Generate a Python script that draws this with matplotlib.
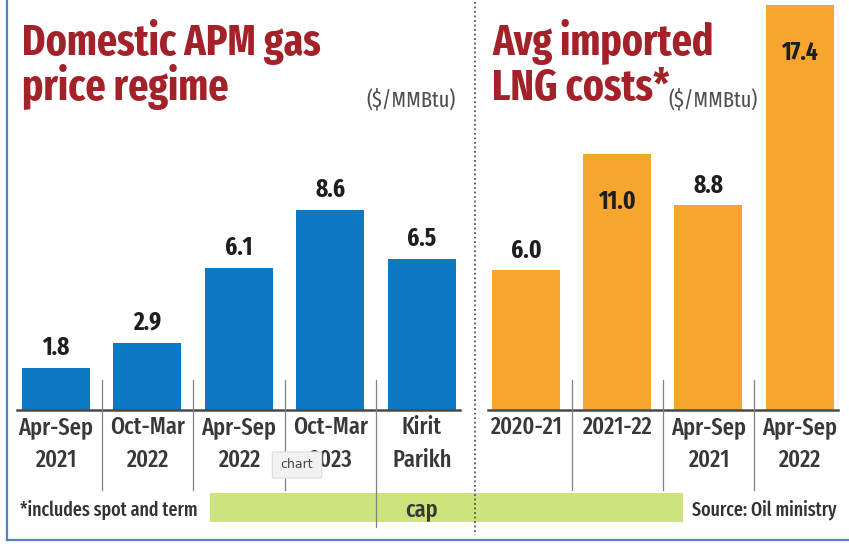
import matplotlib
matplotlib.use('Agg')
import matplotlib.pyplot as plt
from matplotlib.patches import Rectangle, FancyBboxPatch
from matplotlib.lines import Line2D
from matplotlib.transforms import blended_transform_factory

# ---------------- data ----------------
apm_labels = ["Apr-Sep\n2021", "Oct-Mar\n2022", "Apr-Sep\n2022", "Oct-Mar\n2023", "Kirit\nParikh\ncap"]
apm_values = [1.8, 2.9, 6.1, 8.6, 6.5]
lng_labels = ["2020-21", "2021-22", "Apr-Sep\n2021", "Apr-Sep\n2022"]
lng_values = [6.0, 11.0, 8.8, 17.4]

title_left = ["Domestic APM gas", "price regime"]
title_right = ["Avg imported", "LNG costs*"]
unit = "($/MMBtu)"
footnote = "*includes spot and term"
source = "Source: Oil ministry"

FONT = ['Fira Sans Extra Condensed', 'Roboto Condensed', 'DejaVu Sans']
BLUE = '#0b79c4'
ORANGE = '#f6a52f'
RED = '#a3222a'
TXT = '#383838'

W, H = 849, 546
fig = plt.figure(figsize=(W / 100, H / 100), dpi=100)
fig.patch.set_facecolor('white')


def fx(px):
    return px / W


def fy(py):
    return 1 - py / H


YMAX = 17.63
BASE = 410
LINE_Y = [434, 467, 516]  # baselines of the category label lines (px)

axL = fig.add_axes([fx(10), fy(BASE), 457.5 / W, BASE / H])
axR = fig.add_axes([fx(480.4), fy(BASE), 364.8 / W, BASE / H])

for ax, labels, values, color, n in ((axL, apm_labels, apm_values, BLUE, 5),
                                     (axR, lng_labels, lng_values, ORANGE, 4)):
    ax.set_zorder(3)
    ax.set_xlim(-0.5, n - 0.5)
    ax.set_ylim(0, YMAX)
    ax.axis('off')
    xs = list(range(len(values)))
    ax.bar(xs, values, width=0.745, color=color, zorder=2)
    ax.plot([-0.42, n - 0.58], [0, 0], color='#4a4a4a', lw=1.8, zorder=3, clip_on=False)
    for x, v in zip(xs, values):
        if v >= 10:
            ax.text(x, v - 2.35, f"{v:.1f}", ha='center', va='baseline', fontsize=18,
                    fontweight='bold', color='#1e1e1e', family=FONT, zorder=4)
        else:
            ax.text(x, v + 0.55, f"{v:.1f}", ha='center', va='baseline', fontsize=18,
                    fontweight='bold', color='#1e1e1e', family=FONT, zorder=4)
    tr = blended_transform_factory(ax.transData, fig.transFigure)
    for k in range(n - 1):
        bottom = 527 if (n == 5 and k == 3) else 490
        ax.plot([k + 0.5, k + 0.5], [fy(380), fy(bottom)], transform=tr, color='#808080',
                lw=0.9, clip_on=False, zorder=5)
    for x, lab in zip(xs, labels):
        for i, line in enumerate(lab.split("\n")):
            ax.text(x, fy(LINE_Y[i]), line, transform=tr, ha='center', va='baseline',
                    fontsize=17.5, fontweight='medium', color=TXT, family=FONT, zorder=6)

# green band behind footer
fig.patches.append(Rectangle((fx(210), fy(522)), (683 - 210) / W, 29 / H,
                             transform=fig.transFigure, facecolor='#cde37c', edgecolor='none', zorder=1))

# dotted divider
fig.add_artist(Line2D([fx(475), fx(475)], [fy(2), fy(535)], color='#555555', lw=1.3,
                      linestyle=(0, (1, 1.5)), zorder=7))

# border
fig.add_artist(Line2D([fx(7), fx(7)], [fy(0), fy(540)], color='#4f82c9', lw=1.6, zorder=8))
fig.add_artist(Line2D([fx(7), fx(849)], [fy(540), fy(540)], color='#4f82c9', lw=1.6, zorder=8))

# titles
for i, line in enumerate(title_left):
    fig.text(fx(22), fy(55 + 45 * i), line, ha='left', va='baseline', fontsize=31,
             fontweight='bold', color=RED, family=FONT)
for i, line in enumerate(title_right):
    fig.text(fx(492), fy(55 + 45 * i), line, ha='left', va='baseline', fontsize=31,
             fontweight='bold', color=RED, family=FONT)
fig.text(fx(456), fy(106), unit, ha='right', va='baseline', fontsize=16, color='#505050', family=FONT)
fig.text(fx(758), fy(106), unit, ha='right', va='baseline', fontsize=16, color='#505050', family=FONT)

# footer
fig.text(fx(20), fy(516), footnote, ha='left', va='baseline', fontsize=14, fontweight='medium',
         color='#333333', family=FONT, zorder=8)
fig.text(fx(836), fy(516), source, ha='right', va='baseline', fontsize=14, fontweight='medium',
         color='#333333', family=FONT, zorder=8)

# tooltip artefact
fig.patches.append(FancyBboxPatch((fx(274), fy(477)), 46 / W, 24 / H, boxstyle='round,pad=0.002',
                                  transform=fig.transFigure, facecolor='#f2f2f2', edgecolor='#dddddd',
                                  lw=0.8, zorder=9))
fig.text(fx(297), fy(465), "chart", ha='center', va='center', fontsize=9, color='#444444', zorder=10)

fig.savefig('out.png', dpi=100, facecolor='white')
